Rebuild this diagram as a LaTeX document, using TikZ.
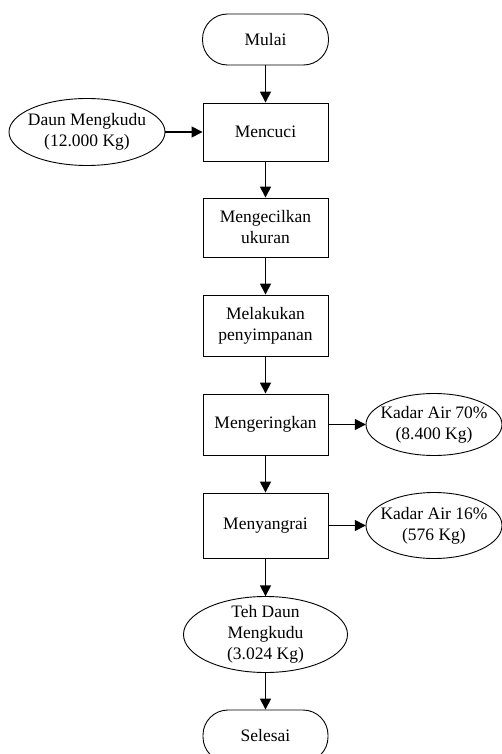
\documentclass[tikz,border=0pt]{standalone}
\usepackage{fontspec}
\setmainfont{Liberation Serif}
\usetikzlibrary{shapes.geometric,arrows.meta}
\begin{document}
\begin{tikzpicture}[x=1pt,y=-1pt,
  every node/.style={font=\fontsize{17.5}{21}\selectfont, align=center, inner sep=0pt},
  procbox/.style={draw, line width=0.9pt, minimum width=125pt, minimum height=#1},
  procbox/.default=60pt,
  term/.style={draw, line width=0.9pt, minimum width=126pt, minimum height=51pt, rounded corners=25pt},
  ovalline/.style={line width=0.9pt},
  flow/.style={line width=1.5pt, -{Triangle[length=11pt,width=11pt]}}]
\useasboundingbox (0,0) rectangle (502,754);
\clip (0,0) rectangle (502,754);
\node[term] (mulai) at (265.5,39.5) {Mulai};
\node[procbox=58pt] (cuci) at (265.5,132) {Mencuci};
\node[minimum width=156pt, minimum height=67pt] (daun) at (87,132) {Daun Mengkudu\\(12.000 Kg)};
\draw[ovalline] (daun.center) ellipse [x radius=78pt, y radius=33.5pt];
\node[procbox=59pt] (kecil) at (265.5,227.5) {Mengecilkan\\ukuran};
\node[procbox=61pt] (simpan) at (265.5,325.5) {Melakukan\\penyimpanan};
\node[procbox=61pt] (kering) at (265.5,424.5) {Mengeringkan};
\node[minimum width=136pt, minimum height=62pt] (k70) at (434,424.5) {Kadar Air 70\%\\(8.400 Kg)};
\draw[ovalline] (k70.center) ellipse [x radius=68pt, y radius=31pt];
\node[procbox=65pt] (sangrai) at (265.5,525.5) {Menyangrai};
\node[minimum width=136pt, minimum height=66pt] (k16) at (434,525.5) {Kadar Air 16\%\\(576 Kg)};
\draw[ovalline] (k16.center) ellipse [x radius=68pt, y radius=33pt];
\node[minimum width=164pt, minimum height=76pt] (teh) at (265.5,634.5) {Teh Daun\\Mengkudu\\(3.024 Kg)};
\draw[ovalline] (teh.center) ellipse [x radius=82pt, y radius=38pt];
\node[term, minimum width=125pt, minimum height=52pt] (selesai) at (265.5,736) {Selesai};
\draw[flow] (mulai) -- (cuci);
\draw[flow] (daun) -- (cuci);
\draw[flow] (cuci) -- (kecil);
\draw[flow] (kecil) -- (simpan);
\draw[flow] (simpan) -- (kering);
\draw[flow] (kering) -- (k70);
\draw[flow] (kering) -- (sangrai);
\draw[flow] (sangrai) -- (k16);
\draw[flow] (sangrai) -- (teh);
\draw[flow] (teh) -- (selesai);
\end{tikzpicture}
\end{document}
